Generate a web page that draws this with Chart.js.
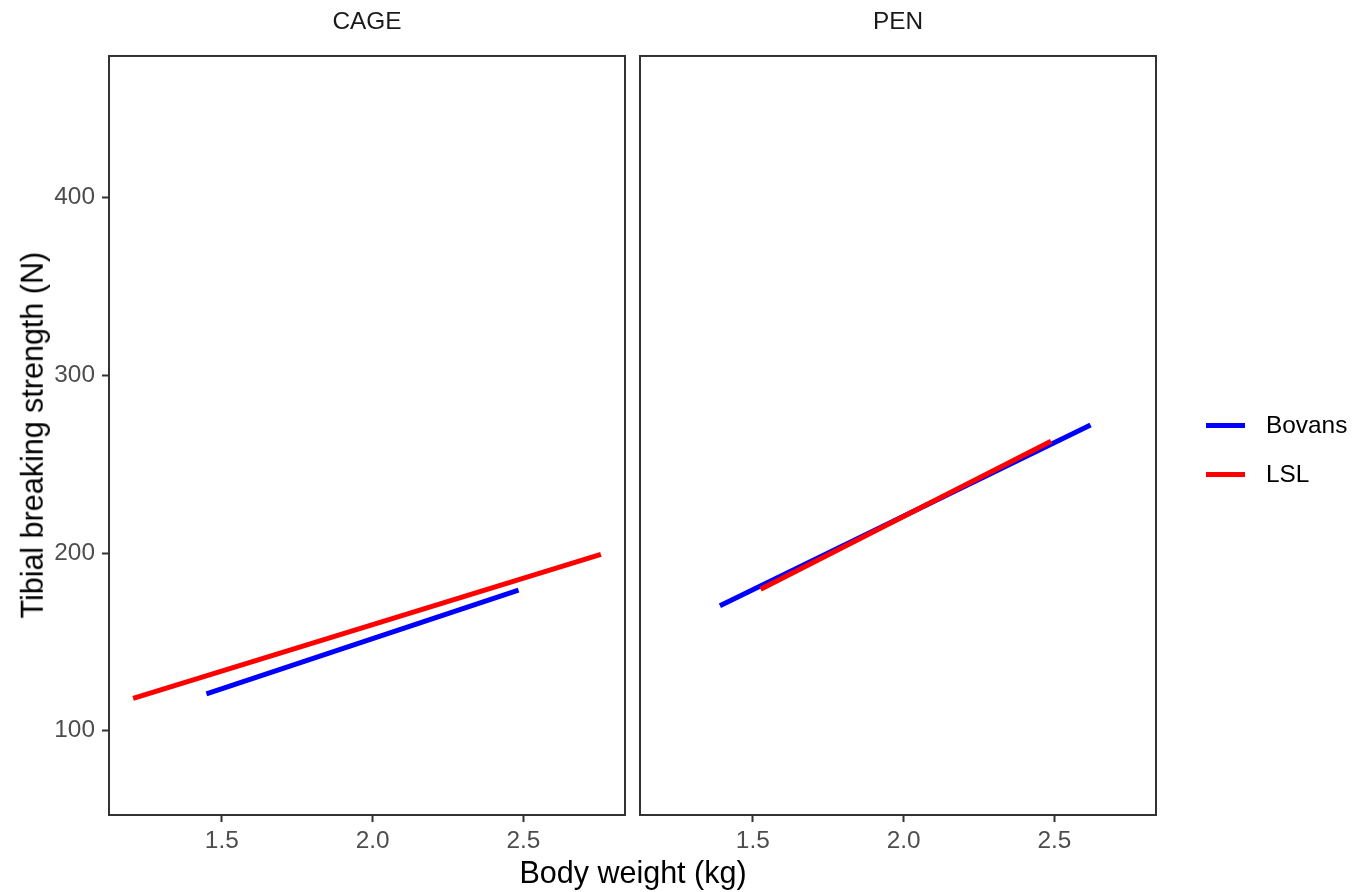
<!DOCTYPE html>
<html>
<head>
<meta charset="utf-8">
<script src="https://cdn.jsdelivr.net/npm/chart.js@4"></script>
<style>
  body { margin: 0; background: #fff; font-family: "Liberation Sans", Arial, sans-serif; }
  #wrap { position: relative; width: 1359px; height: 892px; overflow: hidden; }
  canvas { position: absolute; top: 0; }
  #cageChart { left: 0; }
  #penChart { left: 630px; }
  .axis-title { position: absolute; font-size: 30.5px; line-height: 30.5px; color: #000; white-space: nowrap; text-align: center; }
  #xTitle { left: 333px; width: 600px; top: 857px; }
  #yTitle { left: 32px; top: 420px; width: 600px; margin-left: -300px; transform: rotate(-90deg); }
  .key { position: absolute; left: 1206px; width: 39px; height: 5px; }
  .key-label { position: absolute; left: 1266px; font-size: 24.4px; line-height: 30px; color: #000; }
</style>
</head>
<body>
<div id="wrap">
  <canvas id="cageChart" width="640" height="892"></canvas>
  <canvas id="penChart" width="729" height="892"></canvas>
  <div id="xTitle" class="axis-title">Body weight (kg)</div>
  <div id="yTitle" class="axis-title">Tibial breaking strength (N)</div>
  <div id="legend"></div>
</div>
<script>
// facets and groups
const facets = ["CAGE", "PEN"];
const breeds = ["Bovans", "LSL"];
const breedColors = ["#0000FF", "#FF0000"];

// fitted lines (x = body weight, y = strength)
const cageBovansX = [1.449, 2.484];
const cageBovansY = [120.7, 179.2];
const cageLslX = [1.206, 2.757];
const cageLslY = [118.2, 199.3];
const penBovansX = [1.391, 2.620];
const penBovansY = [170.3, 272.0];
const penLslX = [1.526, 2.489];
const penLslY = [179.6, 262.9];

const xTicks = [1.5, 2.0, 2.5];
const yTicks = [100, 200, 300, 400];
const xRange = [1.126, 2.837];
const yRange = [52.6, 479.7];

const FONT = "'Liberation Sans', Arial, sans-serif";

function toPoints(xs, ys) {
  return xs.map((x, i) => ({ x: x, y: ys[i] }));
}

// draws the full panel frame round the plot area
const panelBox = {
  id: "panelBox",
  afterDraw(chart) {
    const a = chart.chartArea;
    const c = chart.ctx;
    c.save();
    c.strokeStyle = "#333333";
    c.lineWidth = 2;
    c.strokeRect(a.left, a.top, a.right - a.left, a.bottom - a.top);
    c.restore();
  }
};

function makeChart(id, facet, series, showY, padRight, padLeft) {
  const datasets = series.map((s, i) => ({
    label: breeds[i],
    data: s,
    borderColor: breedColors[i],
    backgroundColor: breedColors[i],
    borderWidth: 5,
    borderCapStyle: "butt",
    pointRadius: 0,
    fill: false,
    order: breeds.length - i
  }));

  const tickGrid = {
    display: true,
    drawOnChartArea: false,
    drawTicks: true,
    tickLength: 7,
    tickWidth: 2,
    tickColor: "#333333"
  };

  return new Chart(document.getElementById(id), {
    type: "line",
    data: { datasets: datasets },
    plugins: [panelBox],
    options: {
      responsive: false,
      animation: false,
      devicePixelRatio: 1,
      layout: { padding: { top: 0, right: padRight, bottom: 0, left: padLeft } },
      plugins: {
        legend: { display: false },
        tooltip: { enabled: false },
        title: {
          display: true,
          text: facet,
          fullSize: false,
          color: "#1A1A1A",
          font: { family: FONT, size: 24.4, weight: "normal", lineHeight: 1.2 },
          padding: { top: 7.4, bottom: 19.3 }
        }
      },
      scales: {
        x: {
          type: "linear",
          min: xRange[0],
          max: xRange[1],
          grid: tickGrid,
          border: { display: false },
          afterBuildTicks: (scale) => { scale.ticks = xTicks.map(v => ({ value: v })); },
          afterFit: (scale) => { scale.height = 77; },
          ticks: {
            color: "#4D4D4D",
            padding: 5,
            maxRotation: 0,
            font: { family: FONT, size: 24.4 },
            callback: (v) => Number(v).toFixed(1)
          }
        },
        y: {
          type: "linear",
          display: showY,
          min: yRange[0],
          max: yRange[1],
          grid: tickGrid,
          border: { display: false },
          afterBuildTicks: (scale) => { scale.ticks = yTicks.map(v => ({ value: v })); },
          afterFit: (scale) => { scale.width = showY ? 109 : 0; },
          ticks: {
            color: "#4D4D4D",
            padding: 7,
            font: { family: FONT, size: 24.4 }
          }
        }
      }
    }
  });
}

makeChart("cageChart", facets[0],
  [toPoints(cageBovansX, cageBovansY), toPoints(cageLslX, cageLslY)], true, 15, 0);
makeChart("penChart", facets[1],
  [toPoints(penBovansX, penBovansY), toPoints(penLslX, penLslY)], false, 203, 10);

// legend
const legendEl = document.getElementById("legend");
const keyY = [425, 474];
breeds.forEach((name, i) => {
  const key = document.createElement("div");
  key.className = "key";
  key.style.top = (keyY[i] - 2.5) + "px";
  key.style.background = breedColors[i];
  legendEl.appendChild(key);

  const label = document.createElement("div");
  label.className = "key-label";
  label.style.top = (keyY[i] - 15) + "px";
  label.textContent = name;
  legendEl.appendChild(label);
});
</script>
</body>
</html>
